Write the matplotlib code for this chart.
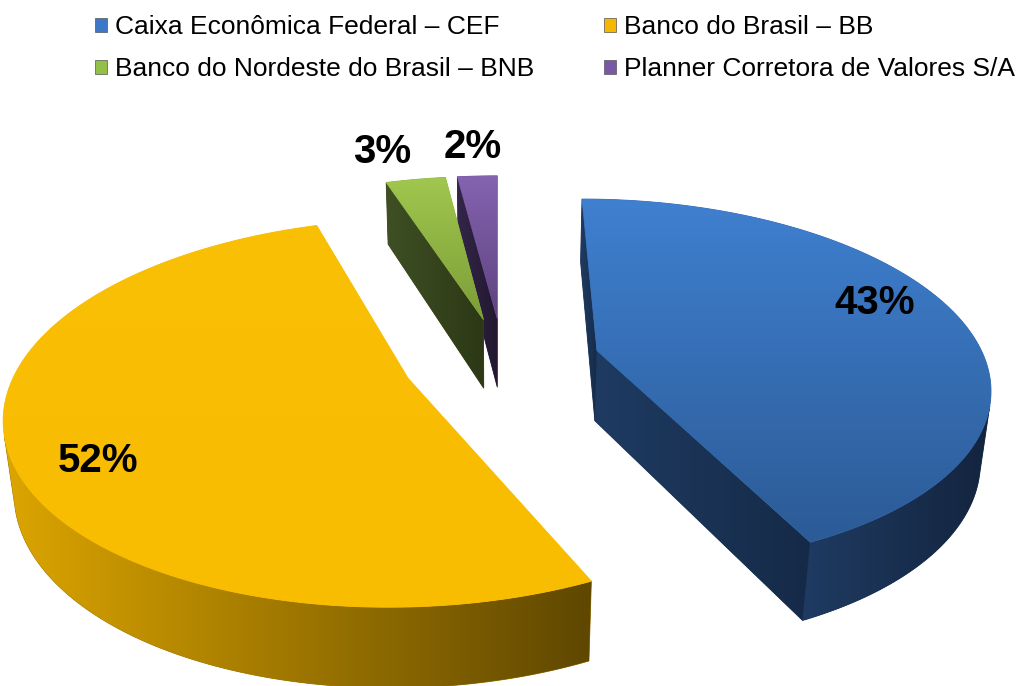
import numpy as np
import matplotlib.pyplot as plt
from matplotlib.patches import Polygon, Patch
from matplotlib.colors import LinearSegmentedColormap, to_rgb

# Data
labels = ['Caixa Econômica Federal – CEF', 'Banco do Brasil – BB',
          'Banco do Nordeste do Brasil – BNB', 'Planner Corretora de Valores S/A']
values = [43, 52, 3, 2]
pct_labels = ['43%', '52%', '3%', '2%']

# Styling
explode = [0.25, 0.26, 0.24, 0.24]
top_colors = [('#3f80d0', '#2c5b96'), ('#fac006', '#f8bc00'),
              ('#a0c74e', '#7d9d38'), ('#8463b0', '#5e437f')]
side_colors = [('#1f3b62', '#13243e'), ('#dca500', '#5f4700'),
               ('#44572a', '#2e3a17'), ('#3a2b54', '#20162e')]
radial_colors = [('#1f3b62', '#152a47'), ('#c99600', '#a07800'),
                 ('#3f5024', '#2c3816'), ('#33264a', '#231830')]
legend_colors = ['#3c78c8', '#f5b800', '#94c047', '#7a58a8']
# label placement: radius fraction and angle shift from the slice middle
label_r = [0.82, 0.82, 1.25, 1.25]
label_dang = [-7.4, -8.4, -3.0, 0.0]

W, H = 1027, 686
fig = plt.figure(figsize=(W / 100, H / 100), dpi=100)
ax = fig.add_axes([0, 0, 1, 1])

# simple perspective camera
cx, cy = 497, 431
xv = -0.016
D = 5.0
f = 380 * D
phi = np.radians(30)
h = 0.21
cam = np.array([xv, D * np.sin(phi), -D * np.cos(phi)])


def proj(x, y, z):
    w = D + z * np.cos(phi) - y * np.sin(phi)
    sx = cx + f * (x - xv) / w
    sy = cy - f * (y * np.cos(phi) + z * np.sin(phi)) / w
    return np.column_stack([np.atleast_1d(sx), np.atleast_1d(sy)])


def visible(normal, point):
    return np.dot(normal, cam - point) > 0


zc = [0]


def grad_fill(verts, c1, c2, vertical=True):
    z = zc[0]
    zc[0] += 1
    mid = tuple((np.array(to_rgb(c1)) + np.array(to_rgb(c2))) / 2)
    poly = Polygon(verts, closed=True, facecolor=mid, edgecolor=mid, lw=0.6, zorder=z)
    ax.add_patch(poly)
    x0, y0 = verts.min(axis=0)
    x1, y1 = verts.max(axis=0)
    cmap = LinearSegmentedColormap.from_list('g', [c1, c2])
    g = np.linspace(0, 1, 256)
    img = g[:, None] if vertical else g[None, :]
    im = ax.imshow(img, cmap=cmap, extent=[x0, x1, y1, y0], aspect='auto',
                   zorder=z + 0.5, interpolation='bilinear')
    im.set_clip_path(poly)


fracs = np.array(values) / sum(values)
ends = np.cumsum(fracs) * 360
starts = ends - fracs * 360
mids = (starts + ends) / 2

slices = []
for i in range(len(values)):
    m = np.radians(mids[i])
    ox, oz = explode[i] * np.sin(m), explode[i] * np.cos(m)
    slices.append((i, ox, oz))

# back slices first
slices.sort(key=lambda s: -s[2])

label_pos = {}
for i, ox, oz in slices:
    a1, a2 = np.radians(starts[i]), np.radians(ends[i])
    t = np.linspace(a1, a2, max(int(np.degrees(a2 - a1) * 2), 8))
    ax_ = ox + np.sin(t)
    az_ = oz + np.cos(t)

    # radial faces
    for a, n in [(a1, np.array([-np.cos(a1), 0, np.sin(a1)])),
                 (a2, np.array([np.cos(a2), 0, -np.sin(a2)]))]:
        p = np.array([ox + 0.5 * np.sin(a), h / 2, oz + 0.5 * np.cos(a)])
        if visible(n, p):
            xs = np.array([ox, ox + np.sin(a), ox + np.sin(a), ox])
            ys = np.array([h, h, 0, 0])
            zs = np.array([oz, oz + np.cos(a), oz + np.cos(a), oz])
            grad_fill(proj(xs, ys, zs), radial_colors[i][0], radial_colors[i][1], vertical=False)

    # outer curved face, visible runs only
    vis = np.array([visible(np.array([np.sin(tt), 0, np.cos(tt)]),
                            np.array([ox + np.sin(tt), h / 2, oz + np.cos(tt)])) for tt in t])
    runs = []
    cur = []
    for k in range(len(t)):
        if vis[k]:
            cur.append(k)
        elif cur:
            runs.append(cur)
            cur = []
    if cur:
        runs.append(cur)
    for r in runs:
        if len(r) < 2:
            continue
        top = proj(ax_[r], np.full(len(r), h), az_[r])
        bot = proj(ax_[r], np.zeros(len(r)), az_[r])
        verts = np.vstack([top, bot[::-1]])
        grad_fill(verts, side_colors[i][0], side_colors[i][1], vertical=False)

    # top face
    xs = np.concatenate([[ox], ax_])
    zs = np.concatenate([[oz], az_])
    verts = proj(xs, np.full(len(xs), h), zs)
    grad_fill(verts, top_colors[i][0], top_colors[i][1], vertical=True)

    m = np.radians(mids[i] + label_dang[i])
    label_pos[i] = proj(ox + label_r[i] * np.sin(m), h, oz + label_r[i] * np.cos(m))[0]

for i in range(len(values)):
    x, y = label_pos[i]
    ax.text(x, y, pct_labels[i], fontsize=29, fontweight='bold', family='Liberation Sans',
            ha='center', va='center', zorder=200)

ax.set_xlim(0, W)
ax.set_ylim(H, 0)
ax.axis('off')

order = [0, 2, 1, 3]
handles = [Patch(facecolor=legend_colors[k], edgecolor='#555555', lw=0.5) for k in order]
fig.legend(handles, [labels[k] for k in order], ncol=2, loc='upper left',
           bbox_to_anchor=(82 / W, 1 - 2 / H), frameon=False, borderpad=0,
           prop={'family': 'Liberation Sans', 'size': 19},
           handlelength=0.45, handleheight=0.45, handletextpad=0.3,
           columnspacing=2.65, labelspacing=0.69)

fig.savefig('out.png', dpi=100)
